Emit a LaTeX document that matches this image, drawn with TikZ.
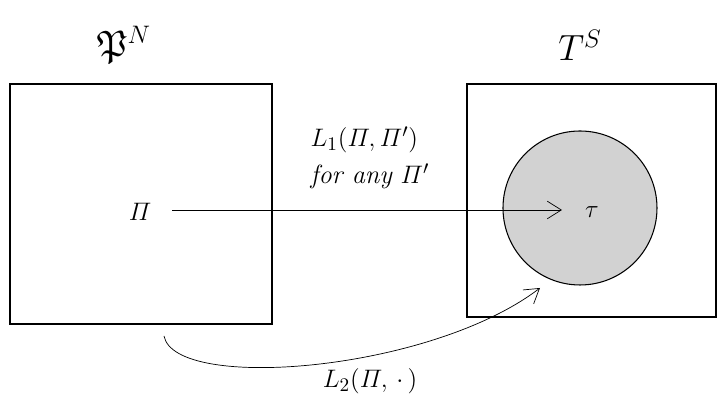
\documentclass[tikz,border=0pt]{standalone}
\usepackage{amsmath,amssymb}
\usetikzlibrary{arrows.meta}
\begin{document}
\begin{tikzpicture}[x=0.02cm, y=-0.02cm]
        \tikzset{every node/.style={font=\fontsize{15}{18}\selectfont},
            title/.style={font=\fontsize{21}{25}\selectfont},
            space/.style={draw, semithick, inner sep=0pt},
            map/.style={-{Straight Barb[length=8pt, width=10pt]}, thin}}
        \useasboundingbox (0,0) rectangle (725,404);
        \node[title] (pn) at (124,45) {$\mathfrak{P}^N$};
        \node[title] (ts) at (580,45) {$T^S$};
        \node[space, minimum width=262*0.02cm, minimum height=240*0.02cm] (left) at (141,204) {};
        \node[space, minimum width=249*0.02cm, minimum height=233*0.02cm] (right) at (591.5,200.5) {};
        \node[circle, draw, semithick, fill=gray!35, minimum size=154*0.02cm] (ball) at (580,208) {};
        \node (pi) at (140,212) {$\varPi$};
        \node (tau) at (592,212) {$\tau$};
        \coordinate (start) at (172,210);
        \coordinate (hit) at (562,210);
        \draw[map] (start) -- (hit);
        \node[align=left] (l1) at (370,158) {$L_1(\varPi,\varPi')$\\[3pt] \textit{for any} $\varPi'$};
        % second map, bending under the boxes
        \coordinate (from) at (164,336);
        \coordinate (to) at (540,288);
        \draw[map] (from) .. controls (175,392) and (430,372) .. (to);
        \node (l2) at (370,381) {$L_2(\varPi,\,\cdot\,)$};
\end{tikzpicture}
\end{document}
